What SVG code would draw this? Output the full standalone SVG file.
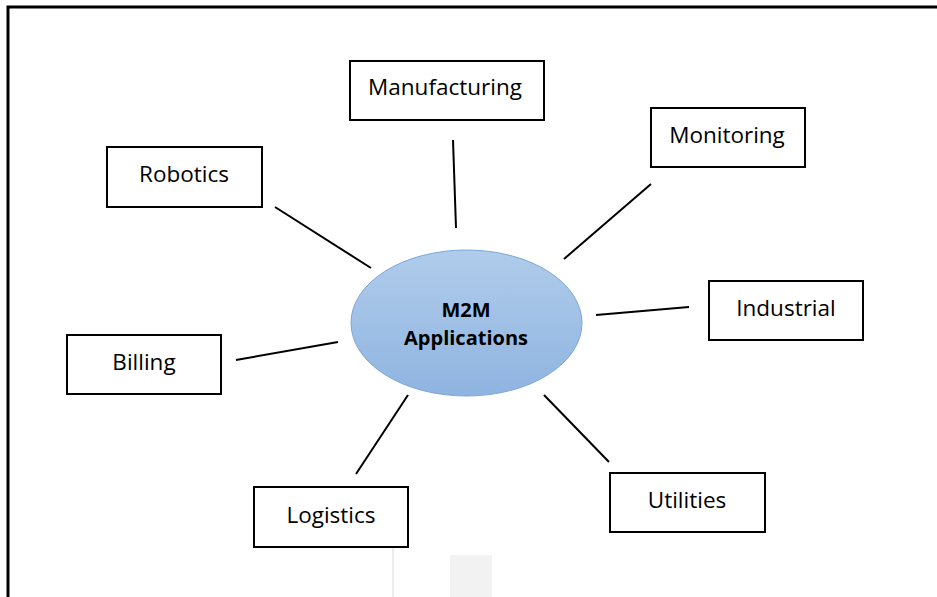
<svg xmlns="http://www.w3.org/2000/svg" width="937" height="597" viewBox="0 0 937 597">
<defs>
<linearGradient id="g" x1="0" y1="0" x2="0" y2="1">
<stop offset="0" stop-color="#b0cceb"/>
<stop offset="1" stop-color="#8fb4e0"/>
</linearGradient>
<style>
.box{fill:#fff;stroke:#000;stroke-width:2}
.lbl{font-family:"Open Sans","Liberation Sans",sans-serif;font-size:22.5px;fill:#000;text-anchor:middle}
.ctr{font-family:"Open Sans","Liberation Sans",sans-serif;font-size:20px;font-weight:bold;fill:#000;text-anchor:middle}
.c line{stroke:#000;stroke-width:2}
</style>
</defs>
<rect width="937" height="597" fill="#fff"/>
<path d="M8,597 V7 H937" fill="none" stroke="#000" stroke-width="3"/>
<line x1="393" y1="547" x2="393" y2="597" stroke="#ececec" stroke-width="2"/>
<rect x="450" y="555" width="42" height="42" fill="#f2f2f2"/>
<g class="c">
<line x1="275" y1="207" x2="371" y2="268"/>
<line x1="453" y1="140" x2="456" y2="228"/>
<line x1="651" y1="184" x2="564" y2="259"/>
<line x1="596" y1="315" x2="689" y2="307"/>
<line x1="236" y1="360" x2="338" y2="342"/>
<line x1="356" y1="474" x2="408" y2="395"/>
<line x1="544" y1="395" x2="609" y2="462"/>
</g>
<g id="center">
<ellipse cx="466.5" cy="323" rx="115.5" ry="73" fill="url(#g)" stroke="#7aa6d8" stroke-width="1"/>
<text class="ctr" x="466" y="317">M2M</text>
<text class="ctr" x="466" y="345">Applications</text>
</g>
<g id="manufacturing"><rect class="box" x="350" y="61" width="194" height="59"/><text class="lbl" x="445" y="95">Manufacturing</text></g>
<g id="monitoring"><rect class="box" x="651" y="108" width="154" height="59"/><text class="lbl" x="727" y="143">Monitoring</text></g>
<g id="robotics"><rect class="box" x="107" y="147" width="155" height="60"/><text class="lbl" x="184" y="182">Robotics</text></g>
<g id="industrial"><rect class="box" x="709" y="281" width="154" height="59"/><text class="lbl" x="786" y="316">Industrial</text></g>
<g id="billing"><rect class="box" x="67" y="335" width="154" height="59"/><text class="lbl" x="144" y="370">Billing</text></g>
<g id="logistics"><rect class="box" x="254" y="487" width="154" height="60"/><text class="lbl" x="331" y="523">Logistics</text></g>
<g id="utilities"><rect class="box" x="610" y="473" width="155" height="59"/><text class="lbl" x="687" y="508">Utilities</text></g>
</svg>
